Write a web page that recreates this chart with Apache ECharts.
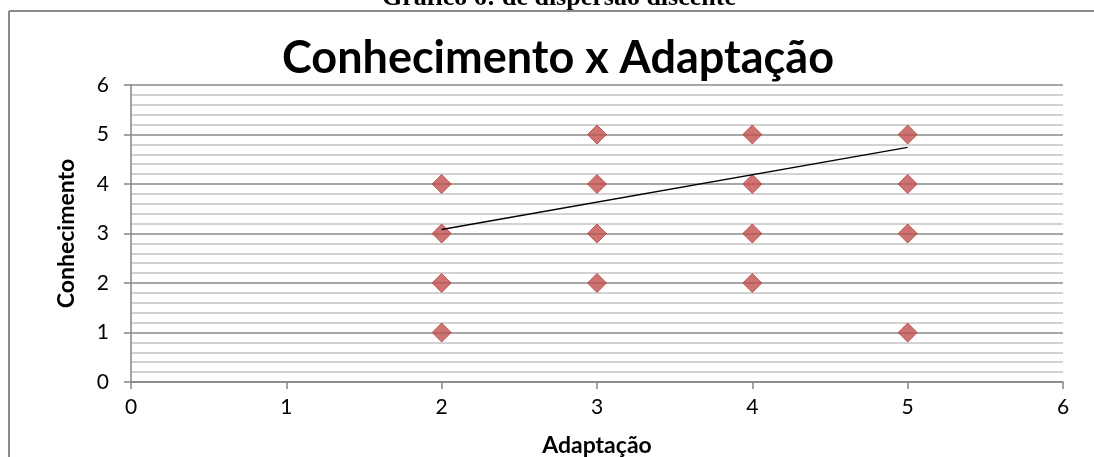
<!DOCTYPE html>
<html>
<head>
<meta charset="utf-8">
<script src="https://cdn.jsdelivr.net/npm/echarts@6/dist/echarts.min.js"></script>
<style>
html,body{margin:0;padding:0;background:#fff;}
#c{width:1094px;height:457px;}
</style>
</head>
<body>
<div id="c"></div>
<script>
// Data
var pageCaption = 'Gráfico 6: de dispersão discente';
var chartTitle = 'Conhecimento x Adaptação';
var xName = 'Adaptação';
var yName = 'Conhecimento';
var adaptacao =    [2, 2, 2, 2, 3, 3, 3, 3, 4, 4, 4, 4, 5, 5, 5, 5];
var conhecimento = [4, 3, 2, 1, 5, 4, 3, 2, 5, 4, 3, 2, 5, 4, 3, 1];
var trendX = [2, 5];
var trendY = [3.08, 4.74];

var points = adaptacao.map(function (x, i) { return [x, conhecimento[i]]; });
var trend = trendX.map(function (x, i) { return [x, trendY[i]]; });

var font = 'Lato, "Open Sans", sans-serif';
var chart = echarts.init(document.getElementById('c'));
chart.setOption({
  animation: false,
  backgroundColor: '#ffffff',
  graphic: [
    { type: 'text', x: 559, y: 11,
      style: { text: pageCaption, font: 'bold 26px "Liberation Serif", "Times New Roman", serif', fill: '#000',
               align: 'center', verticalAlign: 'bottom' } },
    { type: 'text', x: 558, y: 58,
      style: { text: chartTitle, font: 'bold 45px Lato, "Open Sans", sans-serif', fill: '#000',
               align: 'center', verticalAlign: 'middle' } },
    { type: 'line', shape: { x1: 9, y1: 11, x2: 1094, y2: 11 }, style: { stroke: '#8a8a8a', lineWidth: 2 } },
    { type: 'line', shape: { x1: 9, y1: 11, x2: 9, y2: 457 }, style: { stroke: '#8a8a8a', lineWidth: 2 } }
  ],
  grid: { left: 131, right: 31, top: 85, bottom: 75, containLabel: false, outerBoundsMode: 'none' },
  xAxis: {
    type: 'value', min: 0, max: 6, interval: 1,
    name: xName, nameLocation: 'middle', nameGap: 52,
    nameTextStyle: { fontFamily: font, fontWeight: 'bold', fontSize: 23, color: '#000' },
    axisLine: { show: true, onZero: false, lineStyle: { color: '#868686', width: 1.5 } },
    axisTick: { show: true, length: 7, inside: false, lineStyle: { color: '#868686', width: 1.5 } },
    axisLabel: { fontFamily: font, fontSize: 21, color: '#000', margin: 15 },
    splitLine: { show: false }
  },
  yAxis: {
    type: 'value', min: 0, max: 6, interval: 1,
    name: yName, nameLocation: 'middle', nameGap: 53, nameRotate: 90,
    nameTextStyle: { fontFamily: font, fontWeight: 'bold', fontSize: 23, color: '#000' },
    axisLine: { show: true, onZero: false, lineStyle: { color: '#868686', width: 1.5 } },
    axisTick: { show: true, length: 7, lineStyle: { color: '#868686', width: 1.5 } },
    axisLabel: { fontFamily: font, fontSize: 21, color: '#000', margin: 22 },
    splitLine: { show: true, lineStyle: { color: '#8a8a8a', width: 1.5 } },
    minorTick: { show: false, splitNumber: 5 },
    minorSplitLine: { show: true, lineStyle: { color: '#c4c4c4', width: 1.5 } }
  },
  series: [
    {
      type: 'scatter',
      data: points,
      symbol: 'diamond',
      symbolSize: 19,
      itemStyle: { color: '#c0504d', borderColor: '#b3443f', borderWidth: 1 },
      z: 3
    },
    {
      type: 'line',
      data: trend,
      symbol: 'none',
      lineStyle: { color: '#000', width: 1.5 },
      z: 4
    }
  ]
});
</script>
</body>
</html>
